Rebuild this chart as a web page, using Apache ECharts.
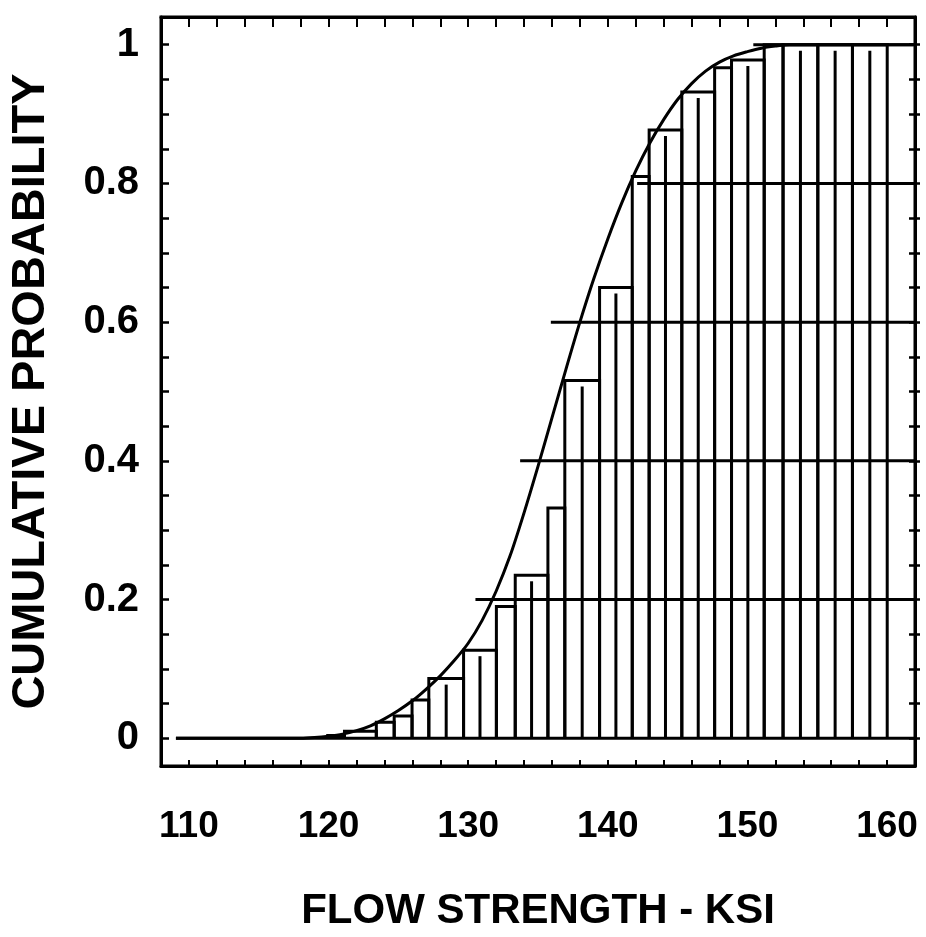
<!DOCTYPE html>
<html>
<head>
<meta charset="utf-8">
<script src="https://cdn.jsdelivr.net/npm/echarts@6/dist/echarts.min.js"></script>
<style>html,body{margin:0;padding:0;background:#fff}#c{width:926px;height:937px}</style>
</head>
<body>
<div id="c"></div>
<script>
// ---- data ----
const binLeft  = [119.94,121.14,123.42,124.70,125.98,127.18,129.67,132.02,133.37,135.71,136.92,139.41,141.75,142.96,145.30,147.65,148.86,151.20,152.55,155.04,157.52];
const binRight = [121.14,123.42,124.70,125.98,127.18,129.67,132.02,133.37,135.71,136.92,139.41,141.75,142.96,145.30,147.65,148.86,151.20,152.55,155.04,157.52,160.01];
const binValue = [0.004,0.010,0.023,0.032,0.055,0.086,0.127,0.19,0.235,0.332,0.516,0.65,0.81,0.877,0.932,0.967,0.978,1.0,1.0,1.0,1.0];

const curveX = [109.07,118,119,120,121,122,123,124,125,126,127,128,129,130,131,132,133,134,135,136,137,138,139,140,141,142,143,144,145,146,147,148,149,150,151,152,153,161.9];
const curveY = [0,0,0.001,0.003,0.006,0.011,0.018,0.028,0.040,0.054,0.071,0.090,0.112,0.137,0.170,0.212,0.263,0.325,0.392,0.462,0.532,0.600,0.663,0.720,0.772,0.818,0.858,0.892,0.921,0.944,0.962,0.975,0.984,0.990,0.995,0.998,1.0,1.0];

const gridLevel = [0,0.2,0.4,0.6,0.8,1.0];
const gridStart = [109.07,130.52,133.72,135.92,142.1,150.42];

const xLabels = [110,120,130,140,150,160];
const xTicks = [110,112,114,116,118,120,122,124,126,128,130,132,134,136,138,140,142,144,146,148,150,152,154,156,158,160];
const yLabels = [0,0.2,0.4,0.6,0.8,1];
const yTicks = [0,0.05,0.1,0.15,0.2,0.25,0.3,0.35,0.4,0.45,0.5,0.55,0.6,0.65,0.7,0.75,0.8,0.85,0.9,0.95,1];

// ---- chart ----
const X_MIN = 108, X_MAX = 162, Y_MIN = -0.04, Y_MAX = 1.04;
const FONT = "'Liberation Sans', Arial, Helvetica, sans-serif";
const LW = 3;
const chart = echarts.init(document.getElementById('c'), null, {renderer: 'canvas'});

function renderBin(params, api) {
  const l = api.value(0), r = api.value(1), h = api.value(2);
  const p0 = api.coord([l, 0]);
  const p1 = api.coord([r, h]);
  const children = [{
    type: 'polyline',
    shape: {points: [[p0[0], p0[1]], [p0[0], p1[1]], [p1[0], p1[1]], [p1[0], p0[1]]]},
    style: {stroke: '#000', fill: null, lineWidth: LW}
  }];
  if (r - l > 1.8) {
    const c = api.coord([(l + r) / 2, 0]);
    children.push({type: 'line', shape: {x1: c[0], y1: p0[1], x2: c[0], y2: p1[1] + 6},
      style: {stroke: '#000', lineWidth: LW}});
  }
  return {type: 'group', children};
}

const gridSeries = gridLevel.map((lv, i) => ({
  type: 'line', xAxisIndex: 0, yAxisIndex: 0, silent: true, symbol: 'none',
  lineStyle: {color: '#000', width: LW},
  data: [[gridStart[i], lv], [X_MAX, lv]], z: 1, animation: false
}));

const tickAxisCommon = {
  type: 'value', min: Y_MIN, max: Y_MAX,
  splitLine: {show: false},
  axisLabel: {show: false}
};

chart.setOption({
  animation: false,
  backgroundColor: '#fff',
  grid: {left: 155, right: 11, top: 17, bottom: 164, show: true, borderColor: '#000', borderWidth: 3},
  xAxis: [{
    type: 'value', min: X_MIN, max: X_MAX, position: 'bottom',
    name: 'FLOW STRENGTH - KSI', nameLocation: 'middle', nameGap: 124,
    nameTextStyle: {fontFamily: FONT, fontWeight: 'bold', fontSize: 42, color: '#000'},
    axisLine: {show: true, onZero: false, lineStyle: {color: '#000', width: 3}},
    axisTick: {show: true, inside: true, length: 6, customValues: xTicks, lineStyle: {color: '#000', width: 2}},
    axisLabel: {show: true, customValues: xLabels, margin: 42, fontFamily: FONT, fontWeight: 'bold', fontSize: 37, color: '#000'},
    splitLine: {show: false}
  }, {
    type: 'value', min: X_MIN, max: X_MAX, position: 'top',
    axisLine: {show: true, onZero: false, lineStyle: {color: '#000', width: 3}},
    axisTick: {show: true, inside: true, length: 10, customValues: xTicks, lineStyle: {color: '#000', width: 2}},
    axisLabel: {show: false}, splitLine: {show: false}
  }],
  yAxis: [{
    type: 'value', min: Y_MIN, max: Y_MAX, position: 'left',
    name: 'CUMULATIVE PROBABILITY', nameLocation: 'middle', nameGap: 106, nameRotate: 90,
    nameTextStyle: {fontFamily: FONT, fontWeight: 'bold', fontSize: 47, color: '#000'},
    axisLine: {show: true, onZero: false, lineStyle: {color: '#000', width: 3}},
    axisTick: {show: true, inside: true, length: 8, customValues: yTicks, lineStyle: {color: '#000', width: 2.5}},
    axisLabel: {show: true, customValues: yLabels, margin: 22, fontFamily: FONT, fontWeight: 'bold', fontSize: 40, color: '#000',
      formatter: v => String(v)},
    splitLine: {show: false}
  }, Object.assign({}, tickAxisCommon, {
    position: 'right',
    axisLine: {show: true, onZero: false, lineStyle: {color: '#000', width: 3}},
    axisTick: {show: true, inside: true, length: 6, customValues: yTicks, lineStyle: {color: '#000', width: 2.5}}
  }), Object.assign({}, tickAxisCommon, {
    position: 'right',
    axisLine: {show: false},
    axisTick: {show: true, inside: false, length: 5, customValues: yTicks, lineStyle: {color: '#000', width: 2.5}}
  })],
  series: gridSeries.concat([{
    type: 'custom', xAxisIndex: 0, yAxisIndex: 0,
    renderItem: renderBin,
    encode: {x: [0, 1], y: 2},
    data: binLeft.map((l, i) => [l, binRight[i], binValue[i]]),
    z: 2
  }, {
    type: 'line', xAxisIndex: 0, yAxisIndex: 0, symbol: 'none',
    smooth: 0.3,
    lineStyle: {color: '#000', width: LW},
    data: curveX.map((x, i) => [x, curveY[i]]),
    z: 3
  }])
});
</script>
</body>
</html>
